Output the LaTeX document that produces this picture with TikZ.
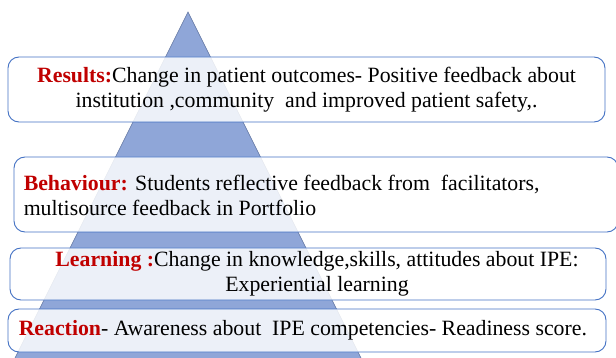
\documentclass[tikz,border=0pt]{standalone}
\usepackage{fontspec}
\setmainfont{Liberation Serif}
\usepackage{xcolor}
\usetikzlibrary{positioning}
\definecolor{pyrblue}{HTML}{8FA6D8}
\definecolor{pyredge}{HTML}{5F739F}
\definecolor{boxedge}{HTML}{4472C4}
\definecolor{lvlred}{HTML}{C00000}
\def\lvl#1{{\bfseries\color{lvlred}#1}}

\tikzset{
  pyramid/.style={fill=pyrblue, draw=pyredge, line width=0.6pt},
  levelbox/.style={draw=boxedge, line width=0.9pt, rounded corners=11pt, fill=white, fill opacity=0.84, text opacity=1, inner sep=0pt},
  leveltext/.style={font=\fontsize{21.8}{25}\selectfont, inner sep=0pt}
}

\begin{document}
\begin{tikzpicture}[x=1pt, y=-1pt]
\useasboundingbox (0,0) rectangle (616,358);

% pyramid behind the boxes
\coordinate (apex) at (188,12);
\coordinate (baseL) at (9,370);
\coordinate (baseR) at (367,370);
\draw[pyramid] (apex) -- (baseL) -- (baseR) -- cycle;

% level boxes
\node[levelbox, minimum width=597pt, minimum height=65pt] (results) at (306.5,89.5) {};
\node[levelbox, minimum width=604pt, minimum height=75pt] (behaviour) at (316,194.5) {};
\node[levelbox, minimum width=596pt, minimum height=52pt] (learning) at (308,274) {};
\node[levelbox, minimum width=598pt, minimum height=43pt] (reaction) at (307,330.5) {};

% texts
\node[leveltext, align=center] (resultstxt) at (results.center)
  {\lvl{Results:}Change in patient outcomes- Positive feedback about\\
   institution ,community\ \ and improved patient safety,.};
\node[leveltext, align=left, anchor=west] (behaviourtxt) at ([xshift=10pt,yshift=-1pt]behaviour.west)
  {\lvl{Behaviour:} Students reflective feedback from\ \ facilitators,\\
   multisource feedback in Portfolio};
\node[leveltext, align=center] (learningtxt) at ([xshift=9pt]learning.center)
  {\lvl{Learning :}Change in knowledge,skills, attitudes about IPE:\\
   Experiential learning};
\node[leveltext, anchor=west] (reactiontxt) at ([xshift=11pt]reaction.west)
  {\lvl{Reaction}- Awareness about\ \ IPE competencies- Readiness score.};
\end{tikzpicture}
\end{document}
